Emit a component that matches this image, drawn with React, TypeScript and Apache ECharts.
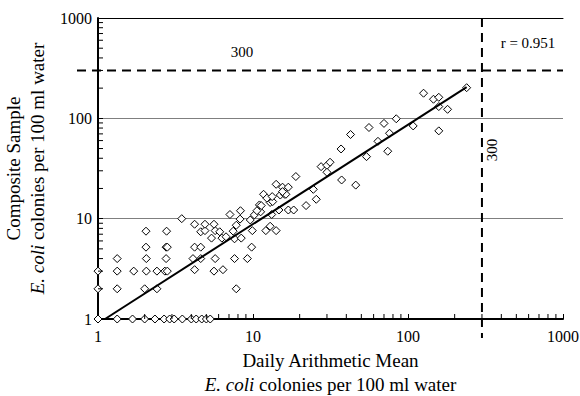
import React, { useEffect, useRef } from "react";
import * as echarts from "echarts";

// Daily arithmetic mean (x) vs composite sample (y), E. coli colonies per 100 ml
const dailyMean = [
  1, 1.33, 1.67, 2, 2.33, 2.67, 2.9, 3.1, 3.5, 4, 4.3, 4.67, 5, 5.3,
  1, 1.33, 2, 2.4, 7.8,
  1, 1.33, 1.7, 2.05, 2.4, 2.7, 2.8, 4.2, 5.6, 6.4,
  1.33, 2.05, 2.75, 4.1, 4.6, 5.7, 7.6, 9.2,
  2.04, 2.75, 2.8, 4.2, 4.6, 9.8,
  5.4, 6.3, 6.7, 7.6, 8.4,
  2.04, 2.77, 4.6, 4.9, 5.7, 6.1, 7.45, 9.9, 12.1, 14.1, 12.9,
  4.2, 4.9, 5.6, 7.8,
  3.47, 8.25, 9.6, 10.2, 7.1, 8.3, 11.2, 13.2, 11, 10.6,
  11.3, 12.9, 13.4, 11.7, 12.3, 13.3, 15, 16, 14.7, 16.9, 18.3, 14.1, 15.5, 16.9, 16.3, 15.5,
  18.9, 22, 25.6, 24.5, 27.5, 30, 31.4, 30, 37, 37.3, 42.6, 46, 54, 56, 64, 70, 74, 76, 84,
  108, 126, 146, 158, 158, 180, 158, 239,
];
const compositeSample = [
  1, 1, 1, 1, 1, 1, 1, 1, 1, 1, 1, 1, 1, 1,
  2, 2, 2, 2, 2,
  3, 3, 3, 3, 3, 3, 3, 3.1, 3, 3.1,
  4, 4, 4, 4, 4, 4, 4, 4,
  5.2, 5.2, 5.2, 5.2, 5.2, 5.2,
  6.4, 6.4, 6.6, 6.3, 6.4,
  7.5, 7.5, 7.4, 7.6, 7.6, 7.4, 7.5, 7.6, 7.6, 7.6, 8.4,
  8.8, 8.8, 8.8, 8.6,
  10, 9.9, 9.7, 10.9, 11, 12, 11.7, 11, 13.7, 12,
  13.5, 14.5, 14.8, 17.5, 16, 16.6, 17.2, 17.5, 12.2, 12.2, 12.2, 22, 20.6, 20.6, 17.5, 18.6,
  26.3, 13.5, 15.6, 19.6, 33, 34, 36.5, 29, 49.5, 24.3, 69, 21.6, 41.5, 81, 59, 89, 47, 71, 99,
  84, 178, 155, 162, 131, 123, 75, 202,
];

// Regression line end points
const fitX = [1.11, 239];
const fitY = [1, 205];

// Standard reference value
const standard = 300;
const rLabel = "r = 0.951";

// Axis tick values
const majorTicks = [1, 10, 100, 1000];
const minorTicks = [2, 3, 4, 5, 6, 7, 8, 9, 20, 30, 40, 50, 60, 70, 80, 90, 200, 300, 400, 500, 600, 700, 800, 900];

const FONT = "'Liberation Serif', 'Times New Roman', serif";
const fmt = (v: number) => String(Math.round(v));

export default function App() {
  const ref = useRef<HTMLDivElement>(null);
  useEffect(() => {
    if (!ref.current) return;
    const chart = echarts.init(ref.current, null, { renderer: "svg" });
    const points = dailyMean.map((x, i) => [x, compositeSample[i]]);
    const fit = fitX.map((x, i) => [x, fitY[i]]);
    const option: any = {
      animation: false,
      backgroundColor: "#fff",
      grid: { left: 98, right: 17, top: 18, bottom: 77, containLabel: false, outerBoundsMode: "none" },
      xAxis: [
        {
          type: "log",
          logBase: 10,
          min: majorTicks[0],
          max: majorTicks[majorTicks.length - 1],
          axisLine: { lineStyle: { color: "#000", width: 2 } },
          axisTick: { inside: true, length: 5, lineStyle: { color: "#000", width: 1 } },
          axisLabel: { color: "#000", fontFamily: FONT, fontSize: 16, margin: 9, formatter: fmt },
          splitLine: { show: false },
          name: "Daily Arithmetic Mean\n{i|E. coli} colonies per 100 ml water",
          nameLocation: "middle",
          nameGap: 29,
          nameTextStyle: {
            color: "#000",
            fontFamily: FONT,
            fontSize: 19,
            lineHeight: 24,
            rich: { i: { fontStyle: "italic", fontFamily: FONT, fontSize: 19, color: "#000", lineHeight: 24 } },
          },
        },
        {
          type: "log",
          logBase: 10,
          position: "top",
          min: majorTicks[0],
          max: majorTicks[majorTicks.length - 1],
          axisLine: { lineStyle: { color: "#000", width: 1 } },
          axisTick: { show: false },
          axisLabel: { show: false },
          splitLine: { show: false },
        },
      ],
      yAxis: {
        type: "log",
        logBase: 10,
        min: majorTicks[0],
        max: majorTicks[majorTicks.length - 1],
        axisLine: { lineStyle: { color: "#000", width: 2 } },
        axisTick: { inside: true, length: 5, lineStyle: { color: "#000", width: 1 } },
        axisLabel: { color: "#000", fontFamily: FONT, fontSize: 16, margin: 6, formatter: fmt },
        splitLine: { show: true, lineStyle: { color: "#7f7f7f", width: 1 } },
        name: "Composite Sample\n{i|E. coli} colonies per 100 ml water",
        nameLocation: "middle",
        nameRotate: 90,
        nameGap: 44,
        nameTextStyle: {
          color: "#000",
          fontFamily: FONT,
          fontSize: 19,
          lineHeight: 24,
          rich: { i: { fontStyle: "italic", fontFamily: FONT, fontSize: 19, color: "#000", lineHeight: 24 } },
        },
      },
      series: [
        {
          type: "custom",
          xAxisIndex: 0,
          data: minorTicks.map((v) => [v, 1]),
          silent: true,
          z: 5,
          renderItem: (params: any, api: any) => {
            const p = api.coord([api.value(0), 1]);
            return {
              type: "line",
              shape: { x1: p[0], y1: p[1], x2: p[0], y2: p[1] - 5 },
              style: { stroke: "#000", lineWidth: 1 },
            };
          },
        },
        {
          type: "custom",
          xAxisIndex: 0,
          data: minorTicks.map((v) => [1, v]),
          silent: true,
          z: 5,
          renderItem: (params: any, api: any) => {
            const p = api.coord([1, api.value(1)]);
            return {
              type: "line",
              shape: { x1: p[0], y1: p[1], x2: p[0] + 5, y2: p[1] },
              style: { stroke: "#000", lineWidth: 1 },
            };
          },
        },
        {
          type: "scatter",
          xAxisIndex: 0,
          data: points,
          symbol: "diamond",
          symbolSize: 8,
          itemStyle: { color: "#fff", borderColor: "#000", borderWidth: 1, opacity: 1 },
          z: 3,
        },
        {
          type: "line",
          xAxisIndex: 0,
          data: fit,
          symbol: "none",
          lineStyle: { color: "#000", width: 2 },
          z: 4,
        },
      ],
    };
    chart.setOption(option);

    const p300 = chart.convertToPixel({ gridIndex: 0 }, [standard, standard]) as number[];
    const pMin = chart.convertToPixel({ gridIndex: 0 }, [majorTicks[0], majorTicks[0]]) as number[];
    const pMax = chart.convertToPixel({ gridIndex: 0 }, [majorTicks[3], majorTicks[3]]) as number[];
    const dash = { stroke: "#000", lineWidth: 2, lineDash: [9, 6] };
    chart.setOption({
      graphic: [
        {
          type: "line",
          z: 10,
          shape: { x1: pMin[0] - 21, y1: p300[1], x2: pMax[0], y2: p300[1] },
          style: dash,
        },
        {
          type: "line",
          z: 10,
          shape: { x1: p300[0], y1: pMax[1], x2: p300[0], y2: pMin[1] + 19 },
          style: dash,
        },
        {
          type: "text",
          z: 10,
          x: 242,
          y: p300[1] - 18,
          style: { text: String(standard), fontFamily: FONT, fontSize: 15, fill: "#000", align: "center", verticalAlign: "middle" },
        },
        {
          type: "text",
          z: 10,
          x: p300[0] + 10,
          y: 150,
          rotation: Math.PI / 2,
          style: { text: String(standard), fontFamily: FONT, fontSize: 15, fill: "#000", align: "center", verticalAlign: "middle" },
        },
        {
          type: "text",
          z: 10,
          x: 528,
          y: 43,
          style: { text: rLabel, fontFamily: FONT, fontSize: 15, fill: "#000", align: "center", verticalAlign: "middle" },
        },
      ],
    });
    return () => chart.dispose();
  }, []);
  return <div ref={ref} style={{ position: "absolute", left: 0, top: 0, width: 580, height: 396 }} />;
}
